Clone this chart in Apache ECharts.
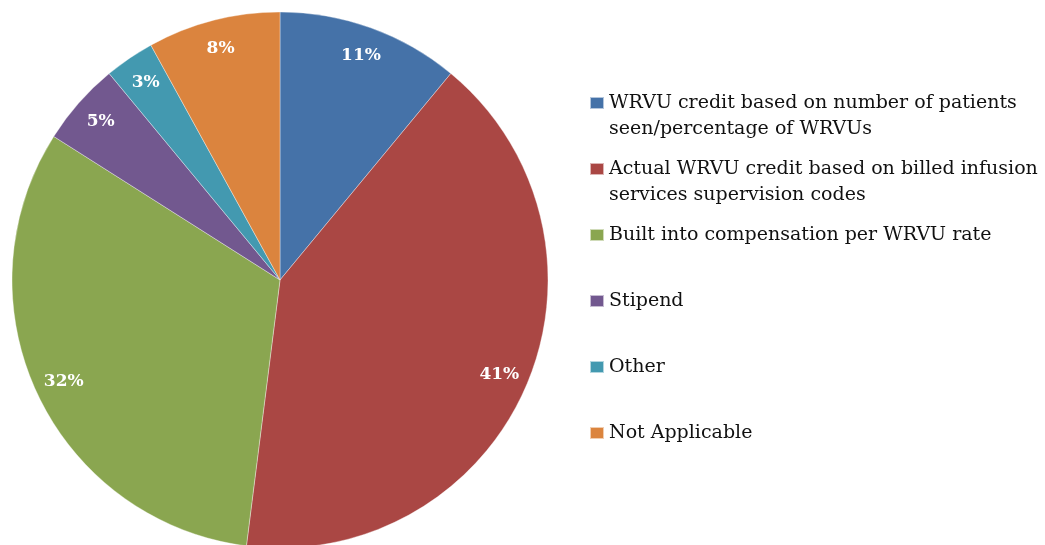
<!DOCTYPE html>
<html>
<head>
<meta charset="utf-8">
<script src="https://cdn.jsdelivr.net/npm/echarts@6/dist/echarts.min.js"></script>
<style>
  html, body { margin: 0; padding: 0; background: #ffffff; }
  #chart { width: 1045px; height: 545px; }
</style>
</head>
<body>
<div id="chart"></div>
<script>
// Compensation approach categories and their shares (%)
const categories = [
  'WRVU credit based on number of patients seen/percentage of WRVUs',
  'Actual WRVU credit based on billed infusion services supervision codes',
  'Built into compensation per WRVU rate',
  'Stipend',
  'Other',
  'Not Applicable'
];
const shares = [11, 41, 32, 5, 3, 8];

// Legend text, broken where the lines wrap
const legendLines = [
  ['WRVU credit based on number of patients', 'seen/percentage of WRVUs'],
  ['Actual WRVU credit based on billed infusion', 'services supervision codes'],
  ['Built into compensation per WRVU rate'],
  ['Stipend'],
  ['Other'],
  ['Not Applicable']
];

const colors = ['#4572A8', '#AA4744', '#8AA650', '#72588F', '#4399B0', '#DB843E'];

const FONT = 'DejaVu Serif';
const CENTER = [280, 280];
const R = 268;

const pieData = categories.map((name, i) => ({ name: name, value: shares[i] }));

// Each legend entry is laid out as three lines with the marker beside the
// first text line, so every entry occupies the same height.
const legendText = {};
categories.forEach((name, i) => {
  const lines = legendLines[i].slice();
  while (lines.length < 2) lines.push(' ');
  legendText[name] = ' \n' + lines.join('\n');
});

const chart = echarts.init(document.getElementById('chart'), null, { renderer: 'canvas' });
chart.setOption({
  animation: false,
  color: colors,
  legend: {
    orient: 'vertical',
    left: 589,
    top: 64,
    padding: 0,
    itemGap: -12,
    itemWidth: 14,
    itemHeight: 12,
    icon: 'rect',
    selectedMode: false,
    data: categories,
    formatter: name => legendText[name],
    textStyle: {
      fontFamily: FONT,
      fontSize: 19,
      lineHeight: 26,
      color: '#111111'
    }
  },
  series: [
    {
      // slices
      type: 'pie',
      center: CENTER,
      radius: R,
      startAngle: 90,
      clockwise: true,
      data: pieData,
      label: { show: false },
      labelLine: { show: false },
      itemStyle: { borderColor: 'rgba(255,255,255,0.6)', borderWidth: 0.6 },
      emphasis: { disabled: true }
    },
    {
      // percentage labels placed near the rim
      type: 'pie',
      center: CENTER,
      radius: [204, R],
      startAngle: 90,
      clockwise: true,
      silent: true,
      data: pieData,
      itemStyle: { color: 'rgba(0,0,0,0)' },
      label: {
        show: true,
        position: 'inside',
        formatter: p => p.value + '%',
        fontFamily: FONT,
        fontWeight: 'bold',
        fontSize: 17,
        color: '#ffffff'
      },
      labelLine: { show: false },
      emphasis: { disabled: true }
    }
  ]
});
</script>
</body>
</html>
